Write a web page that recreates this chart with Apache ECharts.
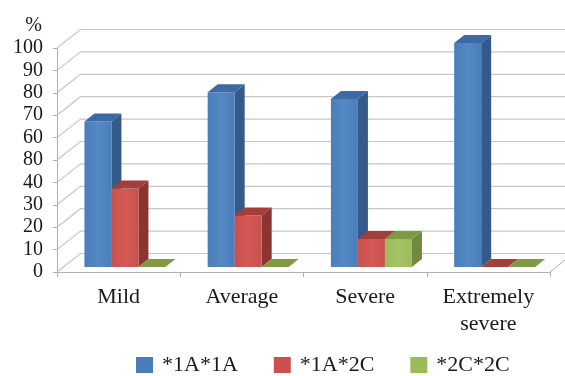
<!DOCTYPE html>
<html>
<head>
<meta charset="utf-8">
<style>
  html, body { margin: 0; padding: 0; background: #ffffff; }
  #chart { width: 565px; height: 376px; }
</style>
<script src="https://cdn.jsdelivr.net/npm/echarts@6/dist/echarts.min.js"></script>
</head>
<body>
<div id="chart"></div>
<script>
// Severity groups on the category axis
const categories = ['Mild', 'Average', 'Severe', 'Extremely\nsevere'];

// Genotype shares (%) per severity group
const seriesNames = ['*1A*1A', '*1A*2C', '*2C*2C'];
const genotype1A1A = [65, 78, 75, 100];
const genotype1A2C = [35, 23, 12.5, 0];
const genotype2C2C = [0, 0, 12.5, 0];

// Value-axis labels, one per tick from 0 to 100
const tickValues = [0, 10, 20, 30, 40, 50, 60, 70, 80, 90, 100];
const tickLabels = ['0', '10', '20', '30', '40', '80', '60', '70', '80', '90', '100'];

// Face colours for each genotype: front, side, top
const palette = [
  { front: '#4a7ebb', frontLight: '#5589c6', side: '#345a89', top: '#3d6aa3' },
  { front: '#c9504c', frontLight: '#d35a55', side: '#8c3431', top: '#a43e3b' },
  { front: '#9bbb59', frontLight: '#a6c466', side: '#6f8a3c', top: '#7e9b43' }
];

// Pseudo-3D geometry (pixels)
const WALL = { dx: 23.5, dy: -18.5 };   // depth of the floor / side wall
const PLANE = { dx: 6.3, dy: -5 };      // offset of bar fronts behind the front edge
const DEPTH = { dx: 10, dy: -8 };       // bar depth
const BAR_W = 27;
const GRID_COLOR = '#c6c6c6';
const AXIS_COLOR = '#b0b0b0';
const FONT = '"Liberation Serif", "Times New Roman", serif';

function barRenderer(k, col) {
  return function (params, api) {
    const idx = api.value(0);
    const val = api.value(1);
    const base = api.coord([idx, 0]);
    const top = api.coord([idx, val]);
    const x = base[0] + PLANE.dx - 1.5 * BAR_W + k * BAR_W;
    const y0 = base[1] + PLANE.dy;
    const y1 = top[1] + PLANE.dy;
    const w = BAR_W, dx = DEPTH.dx, dy = DEPTH.dy;
    const children = [];
    if (y0 - y1 > 0.01) {
      children.push({
        type: 'polygon',
        shape: { points: [[x + w, y1], [x + w + dx, y1 + dy], [x + w + dx, y0 + dy], [x + w, y0]] },
        style: { fill: col.side }
      });
      children.push({
        type: 'polygon',
        shape: { points: [[x, y1], [x + w, y1], [x + w, y0], [x, y0]] },
        style: {
          fill: new echarts.graphic.LinearGradient(0, 0, 1, 0, [
            { offset: 0, color: col.front },
            { offset: 0.5, color: col.frontLight },
            { offset: 1, color: col.front }
          ])
        }
      });
    }
    children.push({
      type: 'polygon',
      shape: { points: [[x, y1], [x + dx, y1 + dy], [x + w + dx, y1 + dy], [x + w, y1]] },
      style: { fill: col.top }
    });
    return { type: 'group', children: children };
  };
}

// Side wall diagonals, back wall gridlines and the floor's right edge
function wallRenderer(params, api) {
  const v = api.value(1);
  const cs = params.coordSys;
  const y = api.coord([0, v])[1];
  const left = cs.x;
  const right = cs.x + cs.width;
  const children = [{
    type: 'polyline',
    shape: { points: [[left, y], [left + WALL.dx, y + WALL.dy], [right + WALL.dx + 20, y + WALL.dy]] },
    style: { stroke: GRID_COLOR, lineWidth: 1.2, fill: null }
  }];
  if (v === 0) {
    children.push({
      type: 'line',
      shape: { x1: right, y1: y, x2: right + WALL.dx, y2: y + WALL.dy },
      style: { stroke: AXIS_COLOR, lineWidth: 1 }
    });
  }
  return { type: 'group', children: children };
}

const valueSets = [genotype1A1A, genotype1A2C, genotype2C2C];

const series = [{
  type: 'custom',
  name: 'walls',
  silent: true,
  z: 1,
  renderItem: wallRenderer,
  data: tickValues.map(v => [0, v])
}];

valueSets.forEach((vals, k) => {
  series.push({
    type: 'custom',
    name: seriesNames[k],
    z: 2 + k,
    itemStyle: { color: palette[k].front },
    renderItem: barRenderer(k, palette[k]),
    data: vals.map((v, i) => [i, v])
  });
});

const chart = echarts.init(document.getElementById('chart'), null, { renderer: 'canvas' });
chart.setOption({
  animation: false,
  backgroundColor: '#ffffff',
  grid: { left: 57, right: 15, top: 48, bottom: 104 },
  xAxis: {
    type: 'category',
    data: categories,
    boundaryGap: true,
    axisLine: { lineStyle: { color: AXIS_COLOR, width: 1 } },
    axisTick: { show: true, length: 5, lineStyle: { color: AXIS_COLOR } },
    axisLabel: {
      interval: 0,
      margin: 12,
      fontFamily: FONT,
      fontSize: 22,
      lineHeight: 27,
      color: '#1a1a1a'
    },
    splitLine: { show: false }
  },
  yAxis: {
    type: 'value',
    min: 0,
    max: 100,
    interval: 10,
    name: '%',
    nameLocation: 'end',
    nameGap: 12,
    nameTextStyle: {
      fontFamily: FONT,
      fontSize: 20,
      color: '#1a1a1a',
      align: 'right',
      verticalAlign: 'bottom',
      padding: [0, 15, 0, 0]
    },
    axisLine: { show: true, lineStyle: { color: AXIS_COLOR, width: 1 } },
    axisTick: { show: true, length: 4, lineStyle: { color: AXIS_COLOR } },
    axisLabel: {
      margin: 14,
      fontFamily: FONT,
      fontSize: 20,
      color: '#1a1a1a',
      formatter: function (v) { return tickLabels[tickValues.indexOf(v)]; }
    },
    splitLine: { show: false }
  },
  legend: {
    data: seriesNames,
    left: 131,
    top: 349,
    icon: 'rect',
    itemWidth: 17,
    itemHeight: 16,
    itemGap: 36,
    textStyle: {
      fontFamily: FONT,
      fontSize: 22,
      color: '#1a1a1a',
      padding: [0, 0, 0, 4]
    }
  },
  series: series
});
</script>
</body>
</html>
